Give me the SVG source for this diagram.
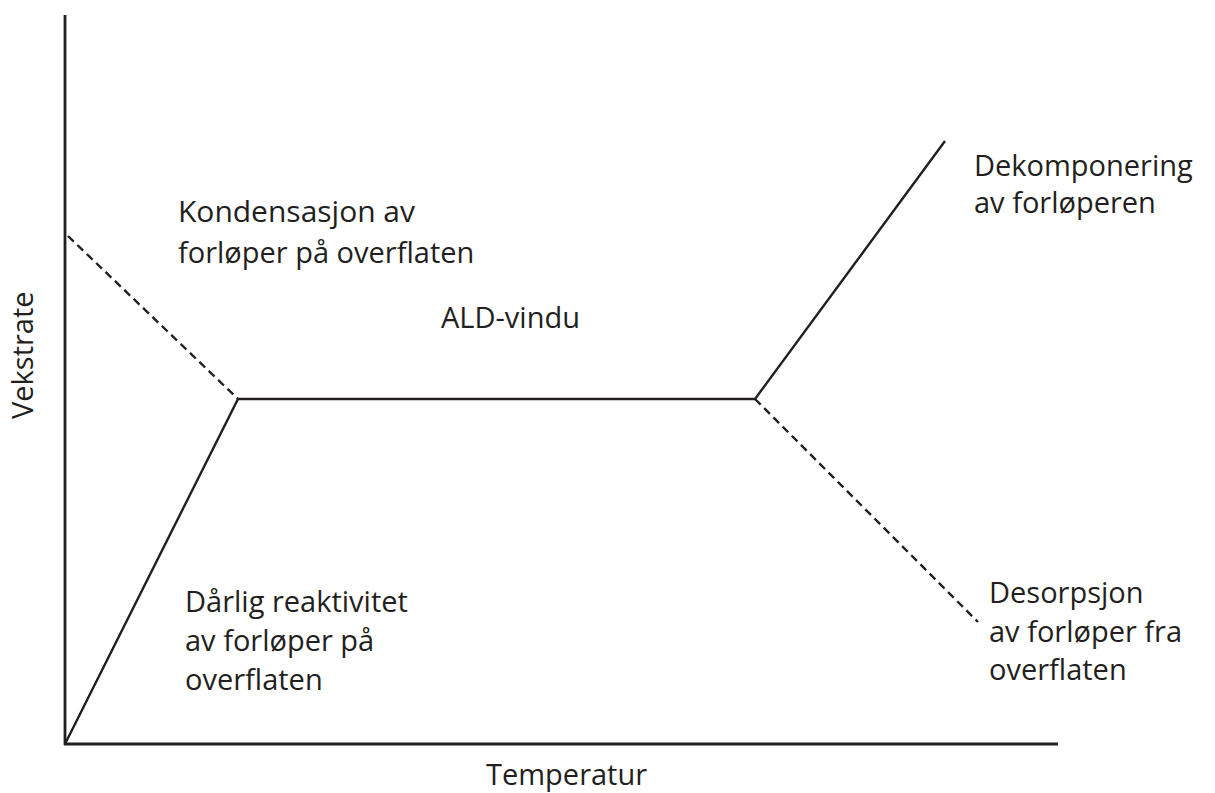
<svg xmlns="http://www.w3.org/2000/svg" width="1215" height="793" viewBox="0 0 1215 793">
  <style>
    .label { font-family: "Open Sans", "Liberation Sans", sans-serif; font-size: 29px; fill: #231f20; }
    .axis { stroke: #231f20; stroke-width: 2.8; fill: none; }
    .solid { stroke: #231f20; stroke-width: 2.4; fill: none; stroke-linejoin: miter; }
    .dashed { stroke: #231f20; stroke-width: 2.4; fill: none; stroke-dasharray: 8 5; }
  </style>
  <rect width="1215" height="793" fill="#ffffff"/>

  <!-- axes -->
  <g id="axes">
    <line class="axis" x1="65" y1="15" x2="65" y2="745"/>
    <line class="axis" x1="64" y1="744" x2="1058" y2="744"/>
    <text class="label" x="486" y="785">Temperatur</text>
    <text class="label" transform="translate(33 419) rotate(-90)">Vekstrate</text>
  </g>

  <!-- growth-rate curve segments -->
  <g id="connectors">
    <polyline class="solid" points="65,744 238,399 755,399 945,141"/>
    <line class="dashed" x1="68" y1="236" x2="238" y2="399"/>
    <line class="dashed" x1="755" y1="399" x2="978" y2="622"/>
  </g>

  <g id="condensation">
    <text class="label" x="178" y="222" textLength="237" lengthAdjust="spacingAndGlyphs">Kondensasjon av</text>
    <text class="label" x="178" y="263">forløper på overflaten</text>
  </g>

  <g id="ald-window">
    <text class="label" x="441" y="328">ALD-vindu</text>
  </g>

  <g id="decomposition">
    <text class="label" x="974" y="176">Dekomponering</text>
    <text class="label" x="974" y="213">av forløperen</text>
  </g>

  <g id="poor-reactivity">
    <text class="label" x="185" y="612">Dårlig reaktivitet</text>
    <text class="label" x="185" y="651">av forløper på</text>
    <text class="label" x="185" y="690">overflaten</text>
  </g>

  <g id="desorption">
    <text class="label" x="989" y="603">Desorpsjon</text>
    <text class="label" x="989" y="642">av forløper fra</text>
    <text class="label" x="989" y="680">overflaten</text>
  </g>
</svg>
